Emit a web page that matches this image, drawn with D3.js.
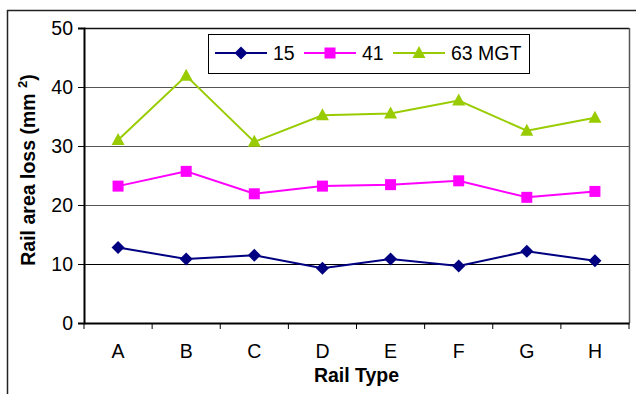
<!DOCTYPE html>
<html><head><meta charset="utf-8">
<script src="https://cdn.jsdelivr.net/npm/d3@7"></script>
<style>body{margin:0;background:#fff}svg{display:block}text{font-family:Arial,"Liberation Sans",sans-serif}</style>
</head><body>
<svg id="c" width="636" height="394"></svg>
<script>
const categories = ["A","B","C","D","E","F","G","H"];
const s15 = [12.8, 10.85, 11.5, 9.3, 10.85, 9.65, 12.15, 10.55];
const s41 = [23.2, 25.7, 21.9, 23.2, 23.45, 24.1, 21.3, 22.3];
const s63 = [31.0, 41.9, 30.7, 35.2, 35.5, 37.7, 32.6, 34.8];
const seriesNames = ["15", "41", "63 MGT"];
const yTicks = [0, 10, 20, 30, 40, 50];

const series = [
  {name: seriesNames[0], values: s15, color: "#000080", sym: "diamond"},
  {name: seriesNames[1], values: s41, color: "#FF00FF", sym: "square"},
  {name: seriesNames[2], values: s63, color: "#99CC00", sym: "triangle"}
];

const svg = d3.select("#c");
const L = 84, R = 629, T = 28, B = 323;
const FS = 19.5;

// outer frame
svg.append("line").attr("x1",7).attr("x2",636).attr("y1",10.5).attr("y2",10.5).attr("stroke","#222").attr("stroke-width",1.5);
svg.append("line").attr("x1",7.5).attr("x2",7.5).attr("y1",10).attr("y2",394).attr("stroke","#222").attr("stroke-width",1.5);

const x = d3.scaleBand().domain(categories).range([L, R]);
const y = d3.scaleLinear().domain([0, 50]).range([B, T]);

// gridlines
svg.append("g").selectAll("line").data(yTicks.filter(d => d > 0 && d < 50)).join("line")
  .attr("x1", L).attr("x2", R).attr("y1", d => Math.round(y(d)) + 0.5).attr("y2", d => Math.round(y(d)) + 0.5)
  .attr("stroke", d => d === 10 ? "#000" : "#555").attr("stroke-width", 1);

// plot border top/right
svg.append("line").attr("x1",L).attr("x2",R).attr("y1",T+0.5).attr("y2",T+0.5).attr("stroke","#111").attr("stroke-width",1.5);
svg.append("line").attr("x1",R+0.5).attr("x2",R+0.5).attr("y1",T).attr("y2",B).attr("stroke","#555").attr("stroke-width",1.5);

// y axis
const ya = svg.append("g").attr("transform", `translate(${L},0)`)
  .call(d3.axisLeft(y).tickValues(yTicks).tickSize(6).tickPadding(5));
ya.select(".domain").attr("stroke","#000").attr("stroke-width",2);
ya.selectAll(".tick line").attr("stroke","#000");
ya.selectAll(".tick text").attr("font-size",FS).attr("fill","#000");

// x axis
const xa = svg.append("g").attr("transform", `translate(0,${B})`)
  .call(d3.axisBottom(x).tickSize(0).tickPadding(21));
xa.select(".domain").attr("stroke","#000").attr("stroke-width",2);
xa.selectAll(".tick text").attr("font-size",FS).attr("fill","#000");
// category separator ticks
const bounds = categories.map(c => x(c)).concat([R]);
svg.append("g").selectAll("line").data(bounds).join("line")
  .attr("x1", d => d).attr("x2", d => d).attr("y1", B).attr("y2", B + 6)
  .attr("stroke", "#000").attr("stroke-width", 1);

// axis titles
svg.append("text").attr("x", (L + R) / 2).attr("y", 382).attr("text-anchor","middle")
  .attr("font-size",FS).attr("font-weight","bold").text("Rail Type");
const yt = svg.append("text").attr("transform", `translate(35,170) rotate(-90)`)
  .attr("text-anchor","middle").attr("font-size",FS).attr("font-weight","bold");
yt.append("tspan").text("Rail area loss (mm  ");
yt.append("tspan").attr("dy",-8).attr("font-size",13).text("2");
yt.append("tspan").attr("dy",8).text(")");

const cx = c => x(c) + x.bandwidth() / 2;
const markerPath = {
  diamond: "M0,-6.5L6.5,0L0,6.5L-6.5,0Z",
  square: "M-5.5,-5.5H5.5V5.5H-5.5Z",
  triangle: "M0,-7L6.5,5L-6.5,5Z"
};

series.forEach(s => {
  const line = d3.line().x((d, i) => cx(categories[i])).y(d => y(d));
  svg.append("path").datum(s.values).attr("d", line).attr("fill","none")
    .attr("stroke", s.color).attr("stroke-width", 2);
  svg.append("g").selectAll("path").data(s.values).join("path")
    .attr("transform", (d, i) => `translate(${cx(categories[i])},${y(d)})`)
    .attr("d", markerPath[s.sym])
    .attr("fill", s.color);
});

// legend
const lg = svg.append("g");
lg.append("rect").attr("x",208.5).attr("y",34.5).attr("width",321).attr("height",39)
  .attr("fill","#fff").attr("stroke","#000").attr("stroke-width",1);
const lx = [215, 304, 393];
series.forEach((s, i) => {
  const g = lg.append("g");
  g.append("line").attr("x1", lx[i]).attr("x2", lx[i] + 52).attr("y1", 53).attr("y2", 53)
    .attr("stroke", s.color).attr("stroke-width", 2);
  g.append("path").attr("transform", `translate(${lx[i] + 26},53)`)
    .attr("d", markerPath[s.sym]).attr("fill", s.color);
  g.append("text").attr("x", lx[i] + 58).attr("y", 60).attr("font-size",FS).text(s.name);
});
</script>
</body></html>
